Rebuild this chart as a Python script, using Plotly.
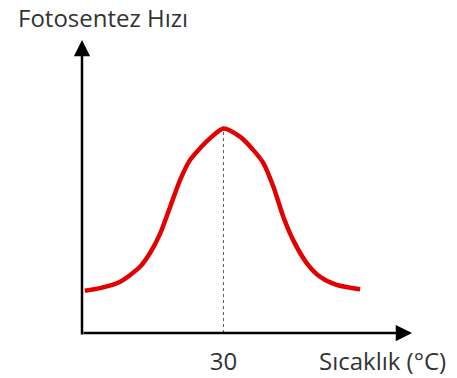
import plotly.graph_objects as go

# Temperature (°C) and photosynthesis rate (relative units)
temperature = [0.6, 3.8, 8.1, 12.3, 14.4, 16.6, 18.7, 20.8, 22.9, 25.0, 27.2, 30.0,
               33.5, 36.3, 38.5, 40.6, 42.7, 44.8, 47.7, 50.5, 54.0, 59.0]
rate = [14.4, 15.3, 17.5, 22.6, 27.2, 34.0, 43.1, 52.2, 59.0, 63.0, 66.5, 69.8,
        67.0, 62.5, 57.9, 49.9, 39.7, 31.7, 23.8, 19.2, 16.4, 14.9]

tick_values = [30]
tick_labels = ["30"]
x_title = "Sıcaklık (°C)"
y_title = "Fotosentez Hızı"

x_max, y_max = 70, 100
text_font = dict(family="Open Sans", size=24, color="#333")

peak_i = rate.index(max(rate))
peak_x, peak_y = temperature[peak_i], rate[peak_i]

fig = go.Figure()
fig.add_trace(go.Scatter(
    x=temperature, y=rate, mode="lines",
    line=dict(color="rgb(226,0,0)", width=4.5, shape="spline", smoothing=0.7),
    hoverinfo="skip", showlegend=False,
))

# dotted guide from the optimum down to the temperature axis
fig.add_shape(type="line", x0=peak_x, x1=peak_x, y0=0, y1=peak_y,
              xref="x", yref="y", line=dict(color="#555", width=1, dash="dot"), layer="below")

# axes drawn as arrows
arrow = dict(showarrow=True, arrowhead=2, arrowsize=1.3, arrowwidth=2.5, arrowcolor="black",
             axref="x", ayref="y", xref="x", yref="y", text="")
fig.add_annotation(x=x_max, y=0, ax=0, ay=0, **arrow)
fig.add_annotation(x=0, y=y_max, ax=0, ay=-1, **arrow)

fig.add_annotation(text=y_title, xref="paper", yref="paper", x=-0.2, y=1.0, yshift=23,
                   xanchor="left", yanchor="middle", showarrow=False, font=text_font)
fig.add_annotation(text=x_title, xref="paper", yref="paper", x=1.109, y=0, yshift=-27,
                   xanchor="right", yanchor="middle", showarrow=False, font=text_font)

fig.update_xaxes(range=[0, x_max], showgrid=False, zeroline=False, showline=False,
                 tickvals=tick_values, ticktext=tick_labels, ticks="",
                 ticklabelstandoff=12, tickfont=text_font, automargin=False, fixedrange=True)
fig.update_yaxes(range=[0, y_max], showgrid=False, zeroline=False, showline=False,
                 showticklabels=False, ticks="", automargin=False, fixedrange=True)

fig.update_layout(
    width=457, height=378,
    margin=dict(l=82, r=45, t=40, b=45),
    plot_bgcolor="white", paper_bgcolor="white",
)

fig.write_html("out.html", config={"displayModeBar": False})
